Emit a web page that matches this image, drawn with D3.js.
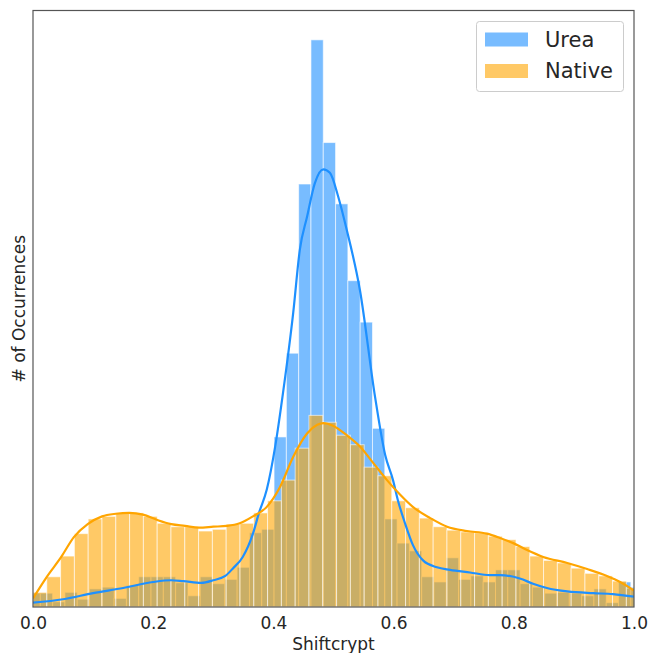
<!DOCTYPE html>
<html>
<head>
<meta charset="utf-8">
<script src="https://cdn.jsdelivr.net/npm/d3@7"></script>
<style>
  body { margin: 0; background: #fff; }
  text { font-family: "DejaVu Sans", sans-serif; fill: #262626; }
</style>
</head>
<body>
<svg id="graph"></svg>
<script>
// histogram densities
var ureaBinStart = -0.0083, ureaBinWidth = 0.02047;
var ureaHist = [0.16,0.16,0.06,0.17,0.09,0.21,0.23,0.10,0.25,0.35,
  0.35,0.35,0.28,0.13,0.35,0.27,0.32,0.46,0.86,0.90,
  1.97,2.94,4.90,6.57,5.38,4.67,3.78,3.30,2.07,1.02,
  0.74,0.65,0.35,0.29,0.57,0.32,0.36,0.29,0.43,0.43,
  0.27,0.23,0.16,0.17,0.16,0.13,0.21,0.05,0.29,0.23];

var nativeBinStart = 0, nativeBinWidth = 0.02296;
var nativeHist = [0.17,0.35,0.59,0.85,1.02,1.05,1.09,1.09,1.05,0.97,
  0.93,0.93,0.88,0.90,0.96,0.97,1.09,1.23,1.47,1.84,
  2.22,2.14,1.99,1.88,1.62,1.52,1.23,1.15,1.03,0.93,
  0.89,0.87,0.86,0.82,0.78,0.70,0.59,0.54,0.51,0.45,
  0.39,0.36,0.30,0.22];

// kde curves
var ureaKdeX = [0,0.05,0.1,0.15,0.2,0.23,0.25,0.28,0.3,0.32,0.333,0.349,0.366,0.376,0.389,0.403,0.416,0.433,0.444,0.456,
  0.469,0.483,0.494,0.508,0.522,0.544,0.569,0.586,0.599,0.607,0.619,0.632,0.649,0.672,0.694,0.727,0.760,0.777,0.810,0.832,
  0.855,0.889,0.932,0.965,1.0];
var ureaKdeY = [0.05,0.09,0.16,0.22,0.29,0.31,0.30,0.28,0.31,0.36,0.45,0.58,0.85,1.09,1.36,1.86,2.48,3.41,4.14,4.52,
  4.91,5.07,5.03,4.75,4.37,3.67,2.44,1.76,1.47,1.24,0.97,0.72,0.54,0.46,0.43,0.40,0.37,0.37,0.33,0.27,
  0.22,0.18,0.16,0.15,0.12];

var nativeKdeX = [0,0.023,0.047,0.068,0.091,0.115,0.138,0.160,0.183,0.206,0.230,0.253,0.276,0.300,0.323,0.344,0.366,0.389,0.411,0.433,
  0.456,0.473,0.483,0.499,0.522,0.544,0.566,0.589,0.611,0.632,0.661,0.689,0.722,0.755,0.777,0.799,0.822,0.849,0.889,0.922,
  0.955,0.977,1.0];
var nativeKdeY = [0.10,0.35,0.58,0.81,0.96,1.05,1.08,1.09,1.07,1.01,0.96,0.94,0.92,0.93,0.94,0.97,1.05,1.16,1.39,1.74,
  2.01,2.11,2.13,2.10,1.99,1.86,1.67,1.47,1.30,1.16,1.03,0.93,0.88,0.85,0.80,0.74,0.66,0.58,0.51,0.44,
  0.36,0.29,0.19];

var xTicks = [0, 0.2, 0.4, 0.6, 0.8, 1.0];
var labels = ["Urea", "Native"];

var screen = {width: 650, height: 653};
var plot = {left: 33, right: 634, top: 10.5, bottom: 607};

var svg = d3.select("#graph")
  .attr("width", screen.width)
  .attr("height", screen.height);

var xScale = d3.scaleLinear().domain([0, 1]).range([plot.left, plot.right]);
var yScale = d3.scaleLinear().domain([0, 6.91]).range([plot.bottom, plot.top]);

svg.append("clipPath").attr("id", "clip")
  .append("rect")
  .attr("x", plot.left).attr("y", plot.top)
  .attr("width", plot.right - plot.left)
  .attr("height", plot.bottom - plot.top);

var area = svg.append("g").attr("clip-path", "url(#clip)");

var drawHist = function(values, start, width, color) {
  area.append("g")
    .selectAll("rect")
    .data(values)
    .enter()
    .append("rect")
    .attr("x", function(d, i) { return xScale(start + i * width); })
    .attr("width", function(d, i) { return xScale(start + (i + 1) * width) - xScale(start + i * width); })
    .attr("y", function(d) { return yScale(d); })
    .attr("height", function(d) { return yScale(0) - yScale(d); })
    .attr("fill", color)
    .attr("fill-opacity", 0.6)
    .attr("stroke", "#fff")
    .attr("stroke-opacity", 0.6)
    .attr("stroke-width", 1);
};

drawHist(ureaHist, ureaBinStart, ureaBinWidth, "#1e90ff");
drawHist(nativeHist, nativeBinStart, nativeBinWidth, "#ffa500");

var drawKde = function(xs, ys, color) {
  var line = d3.line()
    .x(function(d) { return xScale(d[0]); })
    .y(function(d) { return yScale(d[1]); })
    .curve(d3.curveMonotoneX);
  area.append("path")
    .datum(d3.zip(xs, ys))
    .attr("d", line)
    .attr("fill", "none")
    .attr("stroke", color)
    .attr("stroke-width", 2.2);
};

drawKde(ureaKdeX, ureaKdeY, "#1e90ff");
drawKde(nativeKdeX, nativeKdeY, "#ffa500");

// frame
svg.append("rect")
  .attr("x", plot.left).attr("y", plot.top)
  .attr("width", plot.right - plot.left)
  .attr("height", plot.bottom - plot.top)
  .attr("fill", "none")
  .attr("stroke", "#555")
  .attr("stroke-width", 1.2);

// x axis labels, no tick marks
var xAxis = d3.axisBottom(xScale)
  .tickValues(xTicks)
  .tickFormat(d3.format(".1f"))
  .tickSize(0)
  .tickPadding(10);

var gx = svg.append("g")
  .attr("transform", "translate(0," + plot.bottom + ")")
  .call(xAxis);
gx.select(".domain").remove();
gx.selectAll("text")
  .attr("font-size", 17)
  .attr("font-family", "DejaVu Sans, sans-serif")
  .attr("fill", "#262626");

svg.append("text")
  .attr("x", (plot.left + plot.right) / 2)
  .attr("y", 649.5)
  .attr("text-anchor", "middle")
  .attr("font-size", 17)
  .text("Shiftcrypt");

svg.append("text")
  .attr("transform", "translate(25," + ((plot.top + plot.bottom) / 2) + ") rotate(-90)")
  .attr("text-anchor", "middle")
  .attr("font-size", 17)
  .text("# of Occurrences");

// legend
var legend = svg.append("g");
legend.append("rect")
  .attr("x", 476.5).attr("y", 21.5)
  .attr("width", 147).attr("height", 70)
  .attr("rx", 3)
  .attr("fill", "#fff")
  .attr("fill-opacity", 0.8)
  .attr("stroke", "#ccc");

var legendColors = ["#1e90ff", "#ffa500"];
labels.forEach(function(name, i) {
  var cy = 39.5 + i * 31.5;
  legend.append("rect")
    .attr("x", 485).attr("y", cy - 7)
    .attr("width", 43).attr("height", 14)
    .attr("fill", legendColors[i])
    .attr("fill-opacity", 0.6);
  legend.append("text")
    .attr("x", 545).attr("y", cy)
    .attr("dy", "0.35em")
    .attr("font-size", 21)
    .text(name);
});
</script>
</body>
</html>
